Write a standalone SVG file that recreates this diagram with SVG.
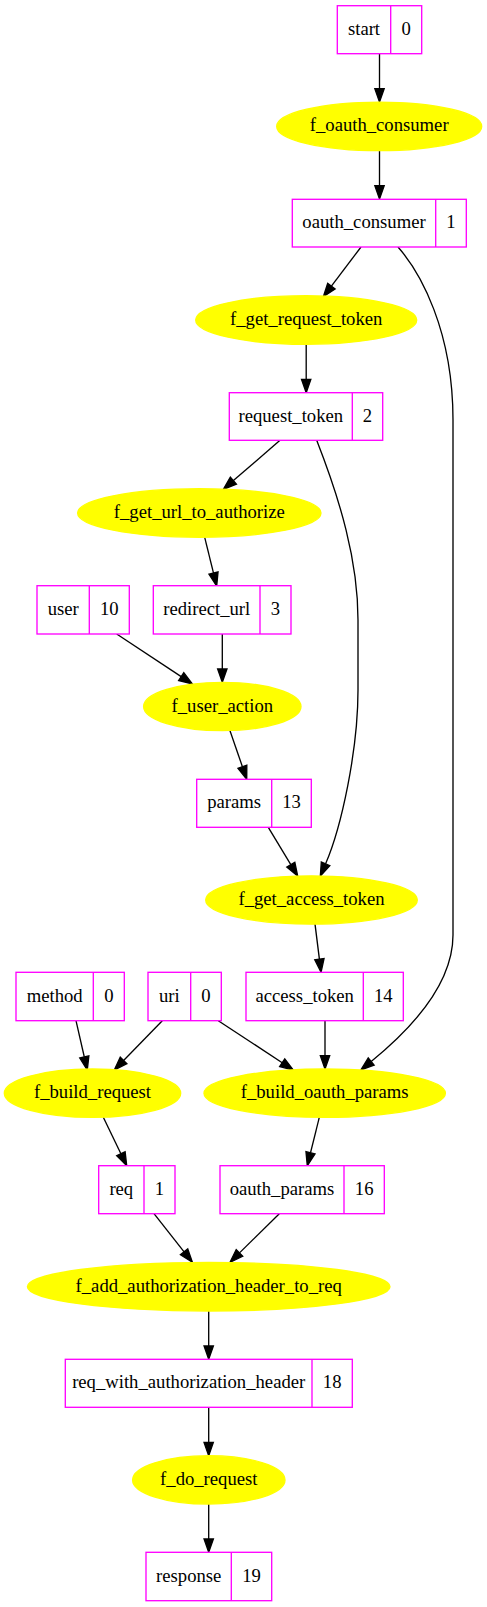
<svg xmlns="http://www.w3.org/2000/svg" width="487" height="1607" viewBox="0 0 487 1607">
<style>
.bg{fill:#ffffff}
.rec rect{fill:#ffffff;stroke:#ff00ff;stroke-width:1.33}
.rec line{stroke:#ff00ff;stroke-width:1.33}
.fn ellipse{fill:#ffff00;stroke:#ffff00;stroke-width:1.33}
text{font-family:"Liberation Serif","Times New Roman",serif;font-size:18.67px;fill:#000000;text-anchor:middle}
.edges path{fill:none;stroke:#000000;stroke-width:1.33;marker-end:url(#ah)}
</style>
<defs>
<marker id="ah" markerUnits="userSpaceOnUse" markerWidth="16" markerHeight="12" viewBox="0 -6 16 12" refX="0" refY="0" orient="auto" overflow="visible">
<path d="M0,-4.67 L13.33,0 L0,4.67 Z" fill="#000000" stroke="#000000" stroke-width="1.33"/>
</marker>
</defs>
<rect class="bg" x="0" y="0" width="487" height="1607"/>

<g id="edges" class="edges">
<path d="M379.5,54 L379.5,88.7"/>
<path d="M379.5,151 L379.5,185.7"/>
<path d="M361,247 L331.4,286.1"/>
<path d="M398,247 C420,272 453,330 453,420 L453,935 C453,990 400,1038 371.2,1061.5"/>
<path d="M306.2,344.3 L306.2,379.4"/>
<path d="M280,440.3 L233.4,480.6"/>
<path d="M316.7,440.3 C340,500 358,560 358,620 L358,690 C358,750 341.5,827 325.6,863.8"/>
<path d="M204.7,537.3 L213.5,573.1"/>
<path d="M116.7,634 L181.2,676.6"/>
<path d="M222.3,634 L222.3,669"/>
<path d="M230,730.7 L242.4,766.7"/>
<path d="M268.3,827.3 L290.8,864.6"/>
<path d="M315,924 L319.4,959.1"/>
<path d="M76,1020.7 L84.3,1057"/>
<path d="M162.3,1020.7 L123.6,1060.5"/>
<path d="M218.3,1020.7 L282.2,1062.7"/>
<path d="M325,1020.7 L325,1055.7"/>
<path d="M103.3,1117.3 L120.9,1153.7"/>
<path d="M319.3,1117.3 L310.5,1152.8"/>
<path d="M154,1213.7 L184.1,1251.8"/>
<path d="M279.3,1213.7 L239.5,1252.9"/>
<path d="M208.7,1311 L208.7,1346"/>
<path d="M208.7,1407.3 L208.7,1442.4"/>
<path d="M208.7,1504 L208.7,1539"/>
</g>

<g id="start" class="rec"><rect x="337.3" y="5.7" width="84.4" height="48"/><line x1="390.7" y1="5.7" x2="390.7" y2="53.7"/><text x="364" y="34.7">start</text><text x="406.2" y="34.7">0</text></g>
<g id="f_oauth_consumer" class="fn"><ellipse cx="379.2" cy="126.4" rx="102.5" ry="24.3"/><text x="379.2" y="131.4">f_oauth_consumer</text></g>
<g id="oauth_consumer" class="rec"><rect x="292.3" y="199.3" width="174" height="47.7"/><line x1="435.7" y1="199.3" x2="435.7" y2="247"/><text x="364" y="228.1">oauth_consumer</text><text x="451" y="228.1">1</text></g>
<g id="f_get_request_token" class="fn"><ellipse cx="306.2" cy="320" rx="110.5" ry="24.3"/><text x="306.2" y="325">f_get_request_token</text></g>
<g id="request_token" class="rec"><rect x="229.3" y="392.7" width="153.4" height="47.6"/><line x1="352.3" y1="392.7" x2="352.3" y2="440.3"/><text x="290.8" y="421.5">request_token</text><text x="367.5" y="421.5">2</text></g>
<g id="f_get_url_to_authorize" class="fn"><ellipse cx="199.3" cy="513" rx="121.7" ry="24.3"/><text x="199.3" y="518">f_get_url_to_authorize</text></g>
<g id="user" class="rec"><rect x="37" y="585.7" width="92.3" height="48.3"/><line x1="89.3" y1="585.7" x2="89.3" y2="634"/><text x="63.2" y="614.8">user</text><text x="109.3" y="614.8">10</text></g>
<g id="redirect_url" class="rec"><rect x="153.3" y="585.7" width="137.7" height="48.3"/><line x1="260" y1="585.7" x2="260" y2="634"/><text x="206.7" y="614.8">redirect_url</text><text x="275.5" y="614.8">3</text></g>
<g id="f_user_action" class="fn"><ellipse cx="222.3" cy="706.5" rx="78.7" ry="24.2"/><text x="222.3" y="711.5">f_user_action</text></g>
<g id="params" class="rec"><rect x="196.7" y="779.3" width="114.6" height="48"/><line x1="271.7" y1="779.3" x2="271.7" y2="827.3"/><text x="234.2" y="808.3">params</text><text x="291.5" y="808.3">13</text></g>
<g id="f_get_access_token" class="fn"><ellipse cx="311.5" cy="900" rx="105.8" ry="24.2"/><text x="311.5" y="905">f_get_access_token</text></g>
<g id="method" class="rec"><rect x="16" y="972.3" width="108.3" height="48.4"/><line x1="93.3" y1="972.3" x2="93.3" y2="1020.7"/><text x="54.7" y="1001.5">method</text><text x="108.8" y="1001.5">0</text></g>
<g id="uri" class="rec"><rect x="148" y="972.3" width="73.3" height="48.4"/><line x1="190.7" y1="972.3" x2="190.7" y2="1020.7"/><text x="169.3" y="1001.5">uri</text><text x="206" y="1001.5">0</text></g>
<g id="access_token" class="rec"><rect x="246" y="972.3" width="157.3" height="48.4"/><line x1="363.3" y1="972.3" x2="363.3" y2="1020.7"/><text x="304.7" y="1001.5">access_token</text><text x="383.3" y="1001.5">14</text></g>
<g id="f_build_request" class="fn"><ellipse cx="92.5" cy="1093.2" rx="88.2" ry="24.2"/><text x="92.5" y="1098.2">f_build_request</text></g>
<g id="f_build_oauth_params" class="fn"><ellipse cx="324.7" cy="1093.2" rx="120.7" ry="24.2"/><text x="324.7" y="1098.2">f_build_oauth_params</text></g>
<g id="req" class="rec"><rect x="98.7" y="1165.7" width="76.3" height="48"/><line x1="144" y1="1165.7" x2="144" y2="1213.7"/><text x="121.3" y="1194.7">req</text><text x="159.5" y="1194.7">1</text></g>
<g id="oauth_params" class="rec"><rect x="220" y="1165.7" width="164.3" height="48"/><line x1="344" y1="1165.7" x2="344" y2="1213.7"/><text x="282" y="1194.7">oauth_params</text><text x="364.2" y="1194.7">16</text></g>
<g id="f_add_authorization_header_to_req" class="fn"><ellipse cx="208.7" cy="1286.7" rx="181.3" ry="24.3"/><text x="208.7" y="1291.7">f_add_authorization_header_to_req</text></g>
<g id="req_with_authorization_header" class="rec"><rect x="65.3" y="1359.3" width="287" height="48"/><line x1="312" y1="1359.3" x2="312" y2="1407.3"/><text x="188.7" y="1388.3">req_with_authorization_header</text><text x="332.2" y="1388.3">18</text></g>
<g id="f_do_request" class="fn"><ellipse cx="208.8" cy="1479.9" rx="76.2" ry="24.2"/><text x="208.8" y="1484.9">f_do_request</text></g>
<g id="response" class="rec"><rect x="146" y="1552.3" width="125.7" height="48.4"/><line x1="231.3" y1="1552.3" x2="231.3" y2="1600.7"/><text x="188.7" y="1581.5">response</text><text x="251.5" y="1581.5">19</text></g>
</svg>
